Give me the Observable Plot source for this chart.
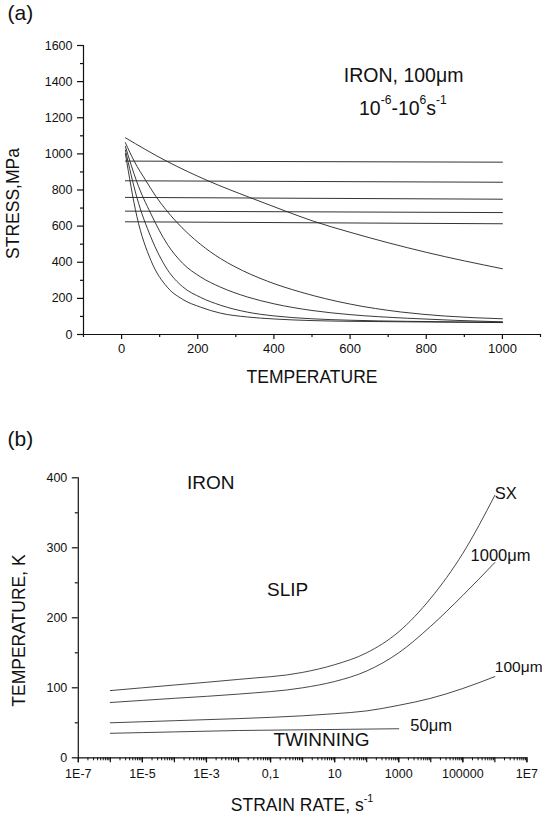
<!DOCTYPE html>
<html><head><meta charset="utf-8">
<script src="https://cdn.jsdelivr.net/npm/d3@7"></script>
<script src="https://cdn.jsdelivr.net/npm/@observablehq/plot@0.6"></script>
<style>
html,body{margin:0;padding:0;background:#fff}
#fig{position:relative;width:542px;height:818px;overflow:hidden;background:#fff}
#fig svg{position:absolute;left:0}
</style></head><body><div id="fig"></div>
<script>
const FONT = '"Liberation Sans", Arial, Helvetica, sans-serif';

// ---------- (a) data ----------
const topXMajor = [0, 200, 400, 600, 800, 1000];
const topXMinor = [-100, 100, 300, 500, 700, 900, 1100];
const topYMajor = [0, 200, 400, 600, 800, 1000, 1200, 1400, 1600];
const topYMinor = [100, 300, 500, 700, 900, 1100, 1300, 1500];

// twinning stress lines (start T=10, end T=1000)
const twinT = [10, 1000];
const twinStart = [960, 851, 759, 683, 624];
const twinEnd = [954, 843, 749, 675, 613];

// slip stress curves
const slipA_T = [10, 118, 227, 336, 427, 504, 600, 800, 1000];
const slipA_S = [1089, 960, 851, 759, 686, 627, 566, 455, 364];
const slipB_T = [10, 33, 64, 90, 116, 142, 175, 208, 260, 295, 383, 470, 601, 732, 850, 1000];
const slipB_S = [1062, 960, 851, 765, 692, 628, 558, 498, 420, 378, 295, 235, 168, 125, 102, 87];
const slipC_T = [10, 40, 77, 120, 160, 208, 260, 330, 400, 500, 600, 750, 1000];
const slipC_S = [1042, 845, 668, 500, 395, 318, 262, 208, 170, 133, 110, 90, 70];
const slipD_T = [10, 40, 77, 120, 160, 208, 260, 330, 400, 500, 600, 750, 1000];
const slipD_S = [1022, 760, 539, 360, 265, 205, 162, 124, 103, 87, 79, 73, 68];
const slipE_T = [10, 40, 77, 120, 160, 208, 260, 330, 400, 500, 600, 750, 1000];
const slipE_S = [1002, 655, 410, 262, 195, 151, 118, 97, 86, 77, 73, 70, 66];

// ---------- (b) data ----------
const rateTickValues = [1e-7, 1e-5, 1e-3, 0.1, 10, 1000, 1e5, 1e7];
const rateTickLabels = ["1E-7", "1E-5", "1E-3", "0,1", "10", "1000", "100000", "1E7"];
const tempTickMajor = [0, 100, 200, 300, 400];
const tempTickMinor = [50, 150, 250, 350];

const sxRate = [1e-6, 1e-4, 1e-2, 1, 10, 100, 1e3, 1e4, 1e5, 1e6];
const sxTemp = [96, 104, 112, 122, 133, 150, 180, 228, 292, 375];
const g1000Rate = [1e-6, 1e-4, 1e-2, 1, 10, 100, 1e3, 1e4, 1e5, 1e6];
const g1000Temp = [79, 85, 91, 100, 109, 124, 150, 188, 232, 279];
const g100Rate = [1e-6, 1e-4, 1e-2, 1, 10, 100, 1e3, 1e4, 1e5, 1e6];
const g100Temp = [50, 53, 56, 60, 63, 67, 75, 85, 99, 116];
const g50Rate = [1e-6, 1e-4, 1e-2, 1, 1e3];
const g50Temp = [35, 37, 39, 40, 41.5];

const regionText = ["IRON", "SLIP", "TWINNING"];
const regionRate = [1.35e-3, 0.34, 3.9];
const regionTemp = [392, 240, 25];

const curveText = ["SX", "1000μm", "100μm", "50μm"];
const curveTextRate = [1.0e6, 1.74e5, 1.0e6, 2.3e3];
const curveTextTemp = [377, 289, 129, 46];
const curveTextSize = [16.5, 16.5, 15.5, 16.5];

// ---------- build tables ----------
const twinRows = twinStart.flatMap((s, i) => [
  {id: "t" + i, T: twinT[0], S: s},
  {id: "t" + i, T: twinT[1], S: twinEnd[i]}
]);
const slipSets = [["A", slipA_T, slipA_S], ["B", slipB_T, slipB_S], ["C", slipC_T, slipC_S], ["D", slipD_T, slipD_S], ["E", slipE_T, slipE_S]];
const slipRows = slipSets.flatMap(([id, T, S]) => T.map((t, i) => ({id, T: t, S: S[i]})));

const rateSets = [["SX", sxRate, sxTemp], ["1000", g1000Rate, g1000Temp], ["100", g100Rate, g100Temp], ["50", g50Rate, g50Temp]];
const rateRows = rateSets.flatMap(([id, R, Tm]) => R.map((r, i) => ({id, rate: r, temp: Tm[i]})));

const decades = d3.range(-7, 8).map(e => Math.pow(10, e));
const minorLog = d3.range(-7, 7).flatMap(e => d3.range(2, 10).map(m => m * Math.pow(10, e)));

const axisStyle = {stroke: "#111", strokeWidth: 1.2};
const style = {fontFamily: FONT, fontSize: "13px", color: "#111", background: "white", overflow: "hidden"};
const plain = d => String(d);

// ---------- plot (a) ----------
const plotA = Plot.plot({
  width: 542, height: 400,
  marginTop: 45, marginBottom: 66, marginLeft: 83, marginRight: 2,
  x: {domain: [-100, 1100]},
  y: {domain: [0, 1600]},
  style,
  marks: [
    Plot.axisX({ticks: topXMajor, tickSize: 5, tickPadding: 4, tickFormat: plain, label: null, fontSize: 13, strokeWidth: 1.2}),
    Plot.axisX({ticks: topXMinor, tickSize: 3, tickFormat: () => "", label: null, strokeWidth: 1.2}),
    Plot.axisY({ticks: topYMajor, tickSize: 6, tickPadding: 5, tickFormat: plain, label: null, fontSize: 12.5, strokeWidth: 1.2}),
    Plot.axisY({ticks: topYMinor, tickSize: 3, tickFormat: () => "", label: null, strokeWidth: 1.2}),
    Plot.ruleX([-100], {y1: 0, y2: 1600, ...axisStyle}),
    Plot.ruleY([0], {x1: -100, x2: 1100, ...axisStyle}),
    Plot.line(twinRows, {x: "T", y: "S", z: "id", stroke: "#333", strokeWidth: 1}),
    Plot.line(slipRows, {x: "T", y: "S", z: "id", curve: "monotone-x", stroke: "#222", strokeWidth: 0.9}),
    Plot.text(["TEMPERATURE"], {frameAnchor: "bottom", dy: 43, textAnchor: "middle", lineAnchor: "middle", fontSize: 17.5, fill: "#111"}),
    Plot.text(["STRESS,MPa"], {frameAnchor: "left", dx: -70, dy: 13.5, rotate: -90, textAnchor: "middle", lineAnchor: "middle", fontSize: 17.5, fill: "#111"}),
    Plot.text(["(a)"], {frameAnchor: "top-left", dx: -76, dy: -32, textAnchor: "start", lineAnchor: "middle", fontSize: 21, fill: "#111"})
  ]
});
plotA.style.top = "0px";

// ---------- plot (b) ----------
const plotB = Plot.plot({
  width: 542, height: 400,
  marginTop: 59.3, marginBottom: 60.7, marginLeft: 77.8, marginRight: 15.6,
  x: {type: "log", domain: [1e-7, 1e7]},
  y: {domain: [0, 400]},
  style,
  marks: [
    Plot.axisX({ticks: decades, tickSize: 5, tickFormat: () => "", label: null, strokeWidth: 1.2}),
    Plot.axisX({ticks: minorLog, tickSize: 3, tickFormat: () => "", label: null, strokeWidth: 1}),
    Plot.axisX({ticks: rateTickValues, tickSize: 5, tickPadding: 6, label: null, fontSize: 12.5,
      tickFormat: d => rateTickLabels[rateTickValues.indexOf(d)], strokeWidth: 1.2}),
    Plot.axisY({ticks: tempTickMajor, tickSize: 6, tickPadding: 5, tickFormat: plain, label: null, fontSize: 12.5, strokeWidth: 1.2}),
    Plot.axisY({ticks: tempTickMinor, tickSize: 3, tickFormat: () => "", label: null, strokeWidth: 1.2}),
    Plot.ruleX([1e-7], {y1: 0, y2: 400, ...axisStyle}),
    Plot.ruleY([0], {x1: 1e-7, x2: 1e7, ...axisStyle}),
    Plot.line(rateRows, {x: "rate", y: "temp", z: "id", curve: "monotone-x", stroke: "#333", strokeWidth: 0.9}),
    Plot.text(regionText, {x: (d, i) => regionRate[i], y: (d, i) => regionTemp[i], text: d => d, textAnchor: "middle", lineAnchor: "middle", fontSize: 19, fill: "#111"}),
    Plot.text(curveText, {x: (d, i) => curveTextRate[i], y: (d, i) => curveTextTemp[i], text: d => d, textAnchor: "start", lineAnchor: "middle", fontSize: (d, i) => curveTextSize[i], fill: "#111"}),
    Plot.text(["TEMPERATURE, K"], {frameAnchor: "left", dx: -59, dy: 12.7, rotate: -90, textAnchor: "middle", lineAnchor: "middle", fontSize: 17.5, fill: "#111"}),
    Plot.text(["(b)"], {frameAnchor: "top-left", dx: -70.8, dy: -38.3, textAnchor: "start", lineAnchor: "middle", fontSize: 21, fill: "#111"})
  ]
});
plotB.style.top = "418px";

const fig = document.getElementById("fig");
fig.appendChild(plotA);
fig.appendChild(plotB);

// rich text with superscripts
function richText(svg, x, y, parts, size, anchor) {
  const t = d3.select(svg).append("text").attr("x", x).attr("y", y)
    .attr("text-anchor", anchor).attr("font-family", FONT).attr("font-size", size).attr("fill", "#111");
  let shift = 0;
  for (const [str, sup] of parts) {
    const target = sup ? -size * 0.55 : 0;
    t.append("tspan").attr("dy", target - shift).attr("font-size", sup ? size * 0.62 : size).text(str);
    shift = target;
  }
}
const ax = plotA.scale("x"), ay = plotA.scale("y");
richText(plotA, ax.apply(742), ay.apply(1397), [["IRON, 100μm", false]], 19.5, "middle");
richText(plotA, ax.apply(740), ay.apply(1213), [["10", false], ["-6", true], ["-10", false], ["6", true], ["s", false], ["-1", true]], 19.5, "middle");
const bx = plotB.scale("x"), by = plotB.scale("y");
richText(plotB, (bx.apply(1e-7) + bx.apply(1e7)) / 2, by.apply(0) + 54, [["STRAIN RATE, s", false], ["-1", true]], 17.5, "middle");
</script></body></html>
